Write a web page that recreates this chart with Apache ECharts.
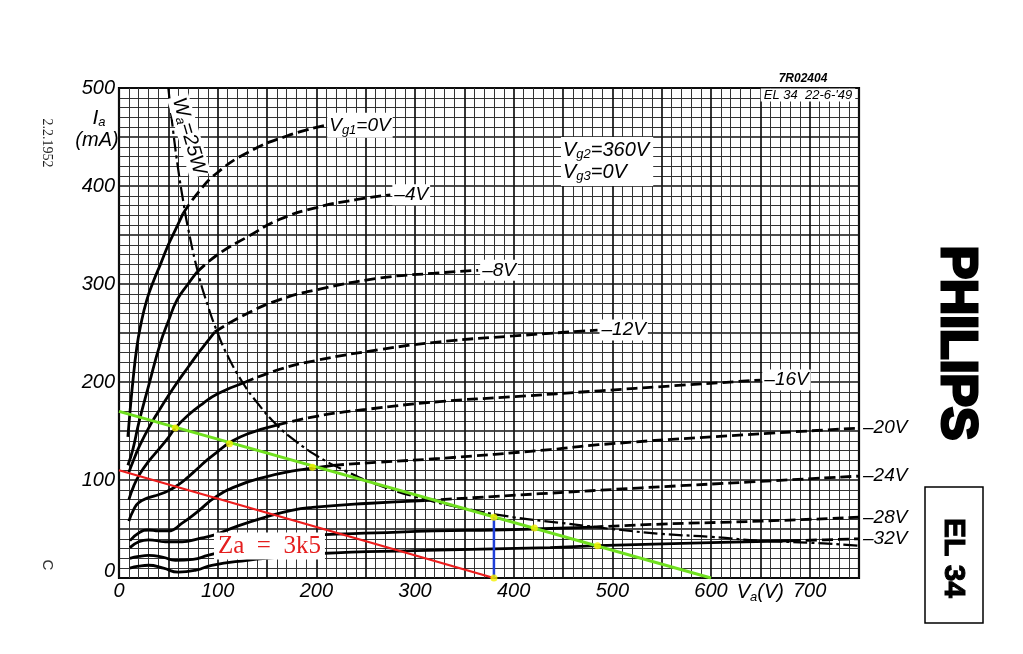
<!DOCTYPE html>
<html><head><meta charset="utf-8">
<script src="https://cdn.jsdelivr.net/npm/echarts@6/dist/echarts.min.js"></script>
<style>html,body{margin:0;padding:0;background:#fff}#c{width:1023px;height:654px}</style>
</head><body><div id="c"></div>
<script>
// Anode characteristics EL34, Vg2 = 360 V  (Va in V, Ia in mA)
const vg0  = [[9,144],[11,168],[14,200],[18,235],[22,258],[28,283],[35,303],[42,320],[50,340],[58,357],[65,372],[80,393],[99,413],[130,434],[170,451],[209,462]];
const vg4  = [[9,115],[14,131],[20,158],[30,196],[42,240],[50,262],[59,284],[70,300],[79,312],[100,330],[130,348],[163,366],[200,378],[240,386],[275,391]];
const vg8  = [[10,108],[15,121],[20,133],[30,153],[40,170],[50,186],[60,201],[70,215],[80,229],[97,251],[130,270],[163,284],[200,294],[264,306],[320,311],[364,314]];
const vg12 = [[10,80],[15,94],[21,106],[30,119],[40,131],[49,142],[57,153],[70,166],[85,178],[100,188],[126,199],[163,213],[200,222],[264,233],[325,241],[400,247],[485,253]];
const vg16 = [[10,58],[15,70],[20,77],[30,82],[40,85],[50,89],[60,95],[70,103],[80,112],[90,121],[100,129],[112,138],[130,147],[160,156],[200,165],[250,172],[325,180],[400,185],[487,191],[560,196],[650,202]];
const vg20 = [[11,38],[20,46],[30,49],[40,48],[50,48],[64,56],[80,68],[97,82],[120,94],[148,103],[175,109],[196,112],[217,115],[260,118],[325,122],[437,131],[486,136],[600,144],[750,153]];
const vg24 = [[11,31],[20,37],[30,39],[47,37],[64,37],[80,40],[97,44],[120,53],[148,62],[175,69],[196,72],[250,76],[310,79],[427,86],[530,92],[640,98],[750,104]];
const vg28 = [[11,20],[20,22],[30,23],[45,21],[57,18],[75,19],[90,23],[120,31],[150,37],[175,41],[203,44],[260,46],[320,48],[380,49],[421,50],[480,52],[550,55],[650,58],[750,62]];
const vg32 = [[11,10],[20,12],[30,13],[45,10],[60,6],[78,8],[94,13],[130,18],[160,21],[203,25],[300,28],[437,31],[485,33],[600,36],[680,38],[750,40]];
const kneeV = [65,79,97,126,160,217,310,480,680];
const biasLabels = ['V{s|g1}=0V','\u20134V','\u20138V','\u201312V','\u201316V','\u201320V','\u201324V','\u201328V','\u201332V'];
const wa25 = [[50,500],[55,455],[60,417],[65,385],[70,357],[80,312],[90,278],[100,250],[110,227],[125,200],[140,179],[160,156],[180,139],[200,125],[230,109],[260,96],[300,83],[350,71],[400,62],[450,56],[500,50],[550,45],[600,42],[650,38],[700,36],[750,33]];
const loadRed = [[0,110],[380,0]];
const loadGreen = [[0,170],[600,0]];
const quiescent = [[380,0],[380,62]];
const markers = [[57,153],[112,137],[196,113],[380,62],[421,51],[485,33],[380,0]];
const xTickLabels = {0:'0',100:'100',200:'200',300:'300',400:'400',500:'500',600:'600',650:'V{s|a}(V)',700:'700'};
const yTickLabels = {0:'{z|0}',100:'100',200:'200',300:'300',400:'400',500:'500'};

const FF = 'Liberation Sans';
const chart = echarts.init(document.getElementById('c'), null, {renderer:'canvas'});
const curves = [vg0,vg4,vg8,vg12,vg16,vg20,vg24,vg28,vg32];
const series = [];
curves.forEach((c,i)=>{
  const k = kneeV[i];
  series.push({type:'line', data:c.filter(p=>p[0]<=k), smooth:0.5, symbol:'none',
    lineStyle:{color:'#000', width:2.8}, z:5, silent:true});
  series.push({type:'line', data:c.filter(p=>p[0]>=k), smooth:0.5, symbol:'none',
    lineStyle:{color:'#000', width:2.8, type:[11,5]}, z:5, silent:true,
    endLabel:{show:true, formatter:()=>biasLabels[i], distance:2, color:'#000', fontSize:19, fontStyle:'italic', fontFamily:FF,
      backgroundColor:'#fff', padding:[1,2],
      rich:{s:{fontSize:13, fontStyle:'italic', fontFamily:FF, color:'#000', padding:[10,0,0,0]}}}});
});
series.push({type:'line', data:wa25, smooth:0.5, symbol:'none', z:6, silent:true,
  lineStyle:{color:'#000', width:2.2, type:[14,4,3,4]}});
series.push({type:'line', data:loadRed, symbol:'none', z:7, lineStyle:{color:'#ec1c1c', width:2.2}});
series.push({type:'line', data:loadGreen, symbol:'none', z:7, lineStyle:{color:'#6fe01e', width:3}});
series.push({type:'line', data:quiescent, symbol:'none', z:8, lineStyle:{color:'#1f3fd8', width:2.5}});
series.push({type:'scatter', data:markers, symbolSize:7, z:9, itemStyle:{color:'#f4f000'}});

const axisCommon = {
  type:'value', interval:50,
  axisLine:{show:false}, axisTick:{show:false},
  splitLine:{show:true, lineStyle:{color:'#111', width:1.7}},
  minorTick:{show:false, splitNumber:5},
  minorSplitLine:{show:true, lineStyle:{color:'#333', width:1}}
};
chart.setOption({
  animation:false,
  backgroundColor:'#fff',
  grid:{left:119, top:88, width:740, height:490, show:true, borderColor:'#000', borderWidth:2.2, backgroundColor:'#fff'},
  xAxis:Object.assign({}, axisCommon, {min:0, max:750,
    axisLabel:{margin:3, color:'#000', fontSize:20, fontStyle:'italic', fontFamily:FF,
      formatter:v=> xTickLabels[v] !== undefined ? xTickLabels[v] : '',
      rich:{s:{fontSize:13, fontStyle:'italic', fontFamily:FF, color:'#000', padding:[10,0,0,0]}}}}),
  yAxis:Object.assign({}, axisCommon, {min:0, max:500,
    axisLabel:{margin:4, color:'#000', fontSize:20, fontStyle:'italic', fontFamily:FF,
      formatter:v=> yTickLabels[v] !== undefined ? yTickLabels[v] : '',
      rich:{z:{fontSize:20, fontStyle:'italic', fontFamily:FF, color:'#000', padding:[0,0,14,0]}}}}),
  series:series,
  graphic:[
    {type:'text', x:99, y:118, style:{text:'I{s|a}', font:'italic 21px '+FF, fill:'#000', align:'center', verticalAlign:'middle',
      rich:{s:{fontSize:13, fontStyle:'italic', fontFamily:FF, fill:'#000', padding:[9,0,0,0]}}}},
    {type:'text', x:97, y:140, style:{text:'(mA)', font:'italic 20px '+FF, fill:'#000', align:'center', verticalAlign:'middle'}},
    {type:'text', x:189, y:136, rotation:-1.29, z:20, style:{text:'W{s|a}=25W', font:'italic 20px '+FF, fill:'#000', align:'center', verticalAlign:'middle',
      backgroundColor:'#fff', padding:[0,2],
      rich:{s:{fontSize:13, fontStyle:'italic', fontFamily:FF, fill:'#000', padding:[9,0,0,0]}}}},
    {type:'text', x:561, y:137, z:20, style:{text:'V{s|g2}=360V\nV{s|g3}=0V', font:'italic 20px '+FF, fill:'#000', align:'left', verticalAlign:'top',
      backgroundColor:'#fff', padding:[2,4,3,2], lineHeight:22,
      rich:{s:{fontSize:13, fontStyle:'italic', fontFamily:FF, fill:'#000', padding:[9,0,0,0]}}}},
    {type:'text', x:803, y:79, z:20, style:{text:'7R02404', font:'italic bold 12px '+FF, fill:'#000', align:'center', verticalAlign:'middle'}},
    {type:'text', x:808, y:95, z:20, style:{text:"EL 34  22-6-'49", font:'italic 13px '+FF, fill:'#000', align:'center', verticalAlign:'middle', backgroundColor:'#fff', padding:[0,3]}},
    {type:'text', x:214, y:546, z:20, style:{text:'Za  =  3k5', font:'25px "Liberation Serif"', fill:'#e41e1e', align:'left', verticalAlign:'middle', backgroundColor:'#fff', padding:[1,4]}},
    {type:'text', x:47, y:143, rotation:-Math.PI/2, style:{text:'2.2.1952', font:'14px "Liberation Serif"', fill:'#222', align:'center', verticalAlign:'middle'}},
    {type:'text', x:47, y:565, rotation:-Math.PI/2, style:{text:'C', font:'15px "Liberation Sans"', fill:'#333', align:'center', verticalAlign:'middle'}},
    {type:'text', x:956, y:343, rotation:-Math.PI/2, style:{text:'PHILIPS', font:'900 50px "Liberation Sans"', fill:'#000', stroke:'#000', lineWidth:3, align:'center', verticalAlign:'middle'}},
    {type:'rect', shape:{x:925, y:487, width:58, height:136}, style:{fill:'none', stroke:'#000', lineWidth:1.5}},
    {type:'text', x:953, y:558, rotation:-Math.PI/2, style:{text:'EL 34', font:'bold 30px "Liberation Sans"', fill:'#000', stroke:'#000', lineWidth:1, align:'center', verticalAlign:'middle'}}
  ]
});
</script></body></html>
